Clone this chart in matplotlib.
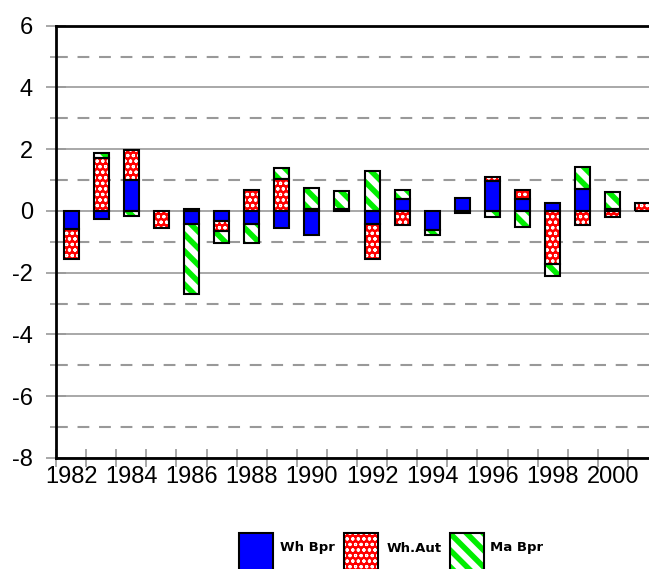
import numpy as np
import matplotlib
matplotlib.use('Agg')
import matplotlib.pyplot as plt
from matplotlib.patches import Rectangle

# 年份与三组数据
years = list(range(1982, 2002))
wh_bpr = [-0.60, -0.27, 0.99, 0.00, -0.42, -0.32, -0.43, -0.54, -0.77, 0.05,
          -0.43, 0.38, -0.62, 0.43, 0.97, 0.38, 0.27, 0.70, 0.05, 0.00]
wh_aut = [-0.96, 1.72, 0.97, -0.54, 0.08, -0.33, 0.67, 1.02, 0.08, 0.00,
          -1.13, -0.46, 0.00, -0.08, 0.13, 0.30, -1.72, -0.46, -0.20, 0.25]
ma_bpr = [0.00, 0.16, -0.15, 0.00, -2.27, -0.38, -0.60, 0.36, 0.67, 0.60,
          1.29, 0.30, -0.15, 0.00, -0.18, -0.53, -0.38, 0.73, 0.55, 0.00]
series_names = ['Wh Bpr', 'Wh.Aut', 'Ma Bpr']
x_labels = [str(y) for y in range(1982, 2001, 2)]

plt.rcParams['font.family'] = ['Liberation Sans', 'DejaVu Sans']
plt.rcParams['lines.scale_dashes'] = False
plt.rcParams['axes.unicode_minus'] = False

# 每组的填充样式：颜色、纹理颜色、纹理、纹理线宽
styles = [
    dict(fc='#0000ff', hc='#0000ff', hatch=None, hlw=1.0),
    dict(fc='#ff0000', hc='white', hatch='ooo', hlw=0.8),
    dict(fc='white', hc='#00ee00', hatch='\\\\', hlw=4.0),
]

W, H = 649, 569
fig = plt.figure(figsize=(W / 100, H / 100), dpi=100)
ax = fig.add_axes([56 / W, 111 / H, 593 / W, 432.3 / H])

x = np.array(years, dtype=float)
pos_base = np.zeros(len(years))
neg_base = np.zeros(len(years))
width = 0.5


def draw_segments(xs, heights, bottoms, st):
    if len(xs) == 0:
        return
    bars = ax.bar(xs, heights, width, bottom=bottoms, color=st['fc'],
                  edgecolor=st['hc'], linewidth=0, hatch=st['hatch'], zorder=2)
    for p in bars:
        if hasattr(p, 'set_hatch_linewidth'):
            p.set_hatch_linewidth(st['hlw'])
    ax.bar(xs, heights, width, bottom=bottoms, fill=False,
           edgecolor='black', linewidth=1.5, zorder=3)


for vals, st in zip([wh_bpr, wh_aut, ma_bpr], styles):
    v = np.array(vals)
    pos = v > 0
    neg = v < 0
    with plt.rc_context({'hatch.linewidth': st['hlw']}):
        draw_segments(x[pos], v[pos], pos_base[pos], st)
        draw_segments(x[neg], v[neg], neg_base[neg], st)
    pos_base[pos] += v[pos]
    neg_base[neg] += v[neg]

ax.set_xlim(1981.5, 1981.5 + 593 / 30.1)
ax.set_ylim(-8, 6)

# 坐标轴刻度
ax.set_yticks(range(-8, 7, 2))
ax.set_yticks(range(-7, 6, 2), minor=True)
ax.set_xticks(range(1982, 2001, 2))
ax.set_xticklabels(x_labels)
ax.set_xticks(np.arange(1981.5, 2001, 1.0), minor=True)

ax.tick_params(axis='x', which='major', length=0, pad=6, labelsize=17)
ax.tick_params(axis='x', which='minor', direction='inout', length=13,
               width=1.2, color='#999999')
ax.tick_params(axis='y', which='major', direction='inout', length=15,
               width=1.2, color='#999999', pad=9, labelsize=17)
ax.tick_params(axis='y', which='minor', direction='inout', length=9,
               width=1.2, color='#999999')

# 网格线
ax.set_axisbelow(True)
ax.grid(axis='y', which='major', color='#999999', linewidth=1.2)
ax.grid(axis='y', which='minor', color='#999999', linewidth=1.5,
        linestyle=(0, (8.5, 7.0)))

for side in ['left', 'bottom', 'top']:
    ax.spines[side].set_color('black')
    ax.spines[side].set_linewidth(2)
ax.spines['right'].set_visible(False)

# 图例（手动绘制，方框底部超出画布）
box_x = [239, 344, 450]
text_x = [280, 387, 490]
for bx, tx, st, name in zip(box_x, text_x, styles, series_names):
    rect = Rectangle((bx / W, -10 / H), 34 / W, 46 / H, transform=fig.transFigure,
                     facecolor=st['fc'], edgecolor=st['hc'], linewidth=0,
                     hatch=st['hatch'])
    if hasattr(rect, 'set_hatch_linewidth'):
        rect.set_hatch_linewidth(st['hlw'])
    fig.add_artist(rect)
    fig.add_artist(Rectangle((bx / W, -10 / H), 34 / W, 46 / H,
                             transform=fig.transFigure, fill=False,
                             edgecolor='black', linewidth=1.5))
    fig.text(tx / W, 1 - 548 / H, name, ha='left', va='center',
             family='DejaVu Sans', weight='bold', size=9.5)

fig.savefig('out.png', dpi=100)
